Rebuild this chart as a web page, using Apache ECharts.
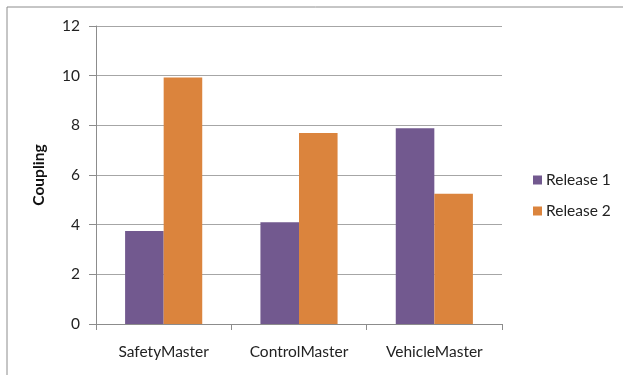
<!DOCTYPE html>
<html>
<head>
<meta charset="utf-8">
<script src="https://cdn.jsdelivr.net/npm/echarts@6/dist/echarts.min.js"></script>
<style>
  html, body { margin: 0; padding: 0; background: #fff; }
  #chart { width: 623px; height: 375px; }
</style>
</head>
<body>
<div id="chart"></div>
<script>
// Coupling per module, two releases
const categories = ['SafetyMaster', 'ControlMaster', 'VehicleMaster'];
const release1 = [3.74, 4.1, 7.88];
const release2 = [9.93, 7.69, 5.25];
const seriesNames = ['Release 1', 'Release 2'];
const yTicks = { min: 0, max: 12, interval: 2 };

const font = 'Lato, "Open Sans", sans-serif';
const chart = echarts.init(document.getElementById('chart'), null, { renderer: 'canvas' });

chart.setOption({
  animation: false,
  backgroundColor: '#fff',
  graphic: [{
    type: 'rect',
    shape: { x: 7, y: 7, width: 640, height: 400 },
    style: { fill: 'none', stroke: '#8c8c8c', lineWidth: 1 },
    silent: true
  }],
  grid: { left: 96, right: 121, top: 26, bottom: 51, containLabel: false },
  legend: {
    orient: 'vertical',
    left: 528,
    top: 167,
    itemWidth: 9,
    itemHeight: 9,
    itemGap: 15,
    icon: 'rect',
    textStyle: { fontFamily: font, fontSize: 15.5, color: '#222', padding: [0, 0, 0, -1] },
    data: seriesNames
  },
  xAxis: {
    type: 'category',
    data: categories,
    axisLine: { lineStyle: { color: '#8c8c8c', width: 1 } },
    axisTick: { show: true, length: 6, alignWithLabel: false, lineStyle: { color: '#8c8c8c' } },
    axisLabel: { fontFamily: font, fontSize: 15.5, color: '#222', margin: 20 }
  },
  yAxis: {
    type: 'value',
    min: yTicks.min,
    max: yTicks.max,
    interval: yTicks.interval,
    name: 'Coupling',
    nameLocation: 'middle',
    nameGap: 49,
    nameRotate: 90,
    nameTextStyle: { fontFamily: font, fontSize: 15.5, fontWeight: 'bold', color: '#111' },
    axisLine: { show: true, lineStyle: { color: '#8c8c8c', width: 1 } },
    axisTick: { show: true, length: 7, lineStyle: { color: '#8c8c8c' } },
    axisLabel: { fontFamily: font, fontSize: 15.5, color: '#222', margin: 16 },
    splitLine: { lineStyle: { color: '#a6a6a6', width: 1 } }
  },
  series: [
    {
      name: seriesNames[0],
      type: 'bar',
      data: release1,
      barGap: '0%',
      barCategoryGap: '43%',
      itemStyle: { color: '#72598f' }
    },
    {
      name: seriesNames[1],
      type: 'bar',
      data: release2,
      barGap: '0%',
      barCategoryGap: '43%',
      itemStyle: { color: '#db843d' }
    }
  ]
});
</script>
</body>
</html>
